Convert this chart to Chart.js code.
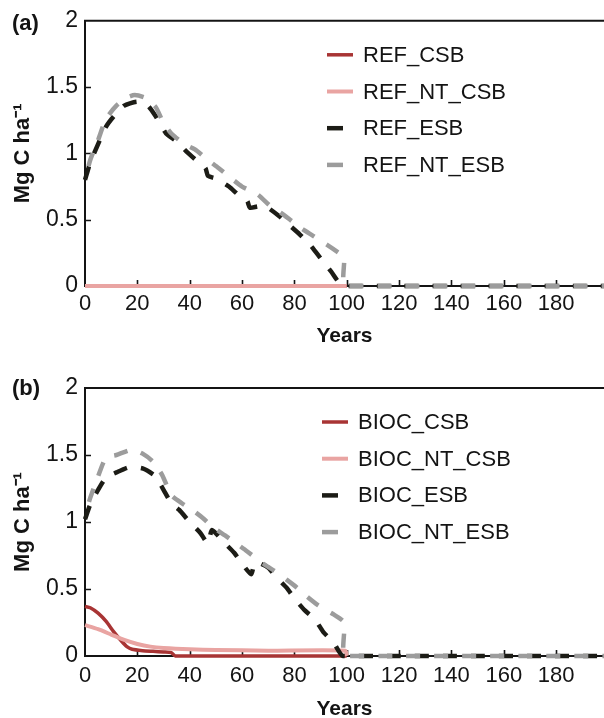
<!DOCTYPE html>
<html>
<head>
<meta charset="utf-8">
<script src="https://cdn.jsdelivr.net/npm/chart.js@4.4.0/dist/chart.umd.min.js"></script>
<style>
  html, body { margin: 0; padding: 0; background: #fff; overflow: hidden; }
  #panelA { position: absolute; left: 0; top: 0; width: 604px; height: 358px; }
  #panelB { position: absolute; left: 0; top: 358px; width: 604px; height: 366px; }
</style>
</head>
<body>
<div id="panelA"><canvas id="chartA"></canvas></div>
<div id="panelB"><canvas id="chartB"></canvas></div>
<script>
// axis ticks
const xTicks = [0, 20, 40, 60, 80, 100, 120, 140, 160, 180];
const yTicks = [0, 0.5, 1, 1.5, 2];

// (a) REF scenarios, Mg C ha-1 over years
const labelsA = ['REF_CSB', 'REF_NT_CSB', 'REF_ESB', 'REF_NT_ESB'];
const refCsbYears = [0, 100];
const refCsb = [0, 0];
const refNtCsbYears = [0, 100];
const refNtCsb = [0, 0];
const refEsbYears = [0, 2, 5, 8, 11, 15, 20, 24, 27, 31, 35, 39, 43, 46, 47, 50, 55, 59, 62, 63, 66, 69, 74, 78, 82, 86, 90, 94, 98.6, 120, 150, 200];
const refEsb = [0.80, 0.93, 1.07, 1.20, 1.28, 1.36, 1.39, 1.36, 1.28, 1.15, 1.09, 1.01, 0.94, 0.89, 0.83, 0.81, 0.75, 0.68, 0.64, 0.59, 0.60, 0.60, 0.53, 0.46, 0.39, 0.31, 0.21, 0.11, 0, 0, 0, 0];
const refNtEsbYears = [0, 2, 5, 8, 12, 16, 19, 23, 27, 30, 33, 38, 42, 47, 51, 56, 60, 66, 71, 75, 79, 83, 87, 92.5, 97, 99, 99.3, 120, 200];
const refNtEsb = [0.80, 0.95, 1.10, 1.26, 1.36, 1.42, 1.44, 1.42, 1.35, 1.23, 1.15, 1.07, 1.03, 0.95, 0.89, 0.81, 0.75, 0.69, 0.60, 0.55, 0.49, 0.43, 0.38, 0.31, 0.25, 0.22, 0, 0, 0];

// (b) BIOC scenarios
const labelsB = ['BIOC_CSB', 'BIOC_NT_CSB', 'BIOC_ESB', 'BIOC_NT_ESB'];
const biocCsbYears = [0, 2, 5, 8, 11, 14, 16, 18, 22, 26, 30, 33, 34.5, 100];
const biocCsb = [0.37, 0.36, 0.32, 0.26, 0.18, 0.11, 0.07, 0.05, 0.04, 0.035, 0.03, 0.025, 0, 0];
const biocNtCsbYears = [0, 5, 10, 15, 20, 25, 30, 40, 50, 70, 99.5, 100];
const biocNtCsb = [0.23, 0.20, 0.16, 0.12, 0.09, 0.07, 0.06, 0.05, 0.045, 0.04, 0.04, 0];
const biocEsbYears = [0, 2, 5, 8, 12, 17, 22, 27, 30, 33, 36, 40, 44, 47, 48.5, 53, 57, 60, 63.5, 65, 70, 73, 77, 80, 84, 88, 91, 95, 98.6, 120, 200];
const biocEsb = [1.02, 1.13, 1.24, 1.33, 1.37, 1.41, 1.40, 1.34, 1.24, 1.14, 1.09, 1.00, 0.92, 0.84, 0.94, 0.85, 0.77, 0.69, 0.61, 0.70, 0.66, 0.59, 0.51, 0.43, 0.34, 0.27, 0.18, 0.10, 0, 0, 0];
const biocNtEsbYears = [0, 2, 5, 8, 12, 18, 22, 26, 29.5, 33, 37, 41, 45, 49, 53.5, 58.5, 62, 68, 72, 77, 81, 85, 89, 95, 99, 99.3, 120, 200];
const biocNtEsb = [1.05, 1.18, 1.34, 1.48, 1.50, 1.54, 1.51, 1.45, 1.35, 1.20, 1.14, 1.09, 1.03, 0.96, 0.90, 0.83, 0.78, 0.69, 0.64, 0.57, 0.51, 0.44, 0.38, 0.31, 0.25, 0, 0, 0];

const FONT = '"Liberation Sans", Arial, sans-serif';
const INK = '#141414';
const styles = [
  { color: '#a83434', width: 3.5, dash: [], offset: 0 },
  { color: '#e9a4a2', width: 4, dash: [], offset: 0 },
  { color: '#1c1c16', width: 4.5, dash: [14, 14], offset: 0 },
  { color: '#9c9c9c', width: 4.5, dash: [14, 14], offset: 14 }
];

const toPoints = (xs, ys) => xs.map((x, i) => ({ x: x, y: ys[i] }));

const framePlugin = {
  id: 'frame',
  beforeDatasetsDraw(chart) {
    const { ctx, chartArea: a, scales: { x, y } } = chart;
    ctx.save();
    ctx.strokeStyle = INK;
    ctx.lineWidth = 2;
    ctx.beginPath();
    ctx.moveTo(a.left - 1, a.top);
    ctx.lineTo(a.right, a.top);
    ctx.stroke();
    // inward tick marks
    ctx.lineWidth = 1.6;
    ctx.beginPath();
    xTicks.slice(1).forEach(v => {
      const px = Math.round(x.getPixelForValue(v)) + 0.5;
      ctx.moveTo(px, a.bottom);
      ctx.lineTo(px, a.bottom - 6);
    });
    yTicks.slice(1, -1).forEach(v => {
      const py = Math.round(y.getPixelForValue(v)) + 0.5;
      ctx.moveTo(a.left, py);
      ctx.lineTo(a.left + 6, py);
    });
    ctx.stroke();
    ctx.restore();
  },
  afterDraw(chart, args, o) {
    const { ctx, chartArea: a } = chart;
    ctx.save();
    // panel tag
    ctx.fillStyle = INK;
    ctx.font = 'bold 22px ' + FONT;
    ctx.textBaseline = 'middle';
    ctx.textAlign = 'left';
    ctx.fillText(o.tag, 12, o.tagY);
    // legend
    ctx.font = '22px ' + FONT;
    chart.data.datasets.forEach((ds, i) => {
      const yy = a.top + 34 + i * 36.7;
      ctx.strokeStyle = ds.borderColor;
      ctx.lineWidth = ds.borderWidth;
      ctx.setLineDash([]);
      ctx.beginPath();
      ctx.moveTo(o.legendX, yy);
      ctx.lineTo(o.legendX + (ds.borderDash.length ? 16 : 26), yy);
      ctx.stroke();
      ctx.fillStyle = INK;
      ctx.fillText(ds.label, o.legendX + 36, yy + 1);
    });
    ctx.restore();
  }
};

function panel(id, series, labels, opt) {
  return new Chart(document.getElementById(id), {
    type: 'line',
    data: {
      datasets: series.map((s, i) => ({
        label: labels[i],
        data: toPoints(s[0], s[1]),
        borderColor: styles[i].color,
        borderWidth: styles[i].width,
        borderDash: styles[i].dash,
        borderDashOffset: styles[i].offset,
        borderCapStyle: 'butt',
        pointRadius: 0,
        tension: 0.2,
        fill: false,
        clip: false,
        order: 3 - i
      }))
    },
    options: {
      responsive: true,
      maintainAspectRatio: false,
      animation: false,
      devicePixelRatio: 1,
      layout: { padding: { top: opt.top, right: 0, left: 0, bottom: 0 } },
      plugins: { legend: { display: false }, tooltip: { enabled: false }, frame: opt },
      scales: {
        x: {
          type: 'linear', min: 0, max: 198.3,
          afterBuildTicks: s => { s.ticks = xTicks.map(v => ({ value: v })); },
          afterFit: s => { s.height = opt.xAxisH; },
          grid: { display: false, drawTicks: false },
          border: { display: true, color: INK, width: 2 },
          ticks: { padding: opt.xPad, color: INK, font: { family: FONT, size: 22 }, maxRotation: 0, autoSkip: false, callback: v => String(v) },
          title: { display: true, text: 'Years', color: INK, font: { family: FONT, size: 21, weight: 'bold' }, padding: { top: 0, bottom: opt.titlePad } }
        },
        y: {
          min: 0, max: 2,
          afterBuildTicks: s => { s.ticks = yTicks.map(v => ({ value: v })); },
          afterFit: s => { s.width = 85; },
          grid: { display: false, drawTicks: false },
          border: { display: true, color: INK, width: 2 },
          ticks: { padding: 7, color: INK, font: { family: FONT, size: 23 }, callback: v => String(v) },
          title: { display: true, text: 'Mg C ha⁻¹', color: INK, font: { family: FONT, size: 22, weight: 'bold' }, padding: { top: 10, bottom: 0 } }
        }
      }
    },
    plugins: [framePlugin]
  });
}

panel('chartA',
  [[refCsbYears, refCsb], [refNtCsbYears, refNtCsb], [refEsbYears, refEsb], [refNtEsbYears, refNtEsb]],
  labelsA,
  { top: 18, xAxisH: 72, xPad: 5, titlePad: 9, tag: '(a)', tagY: 24, legendX: 327 });

panel('chartB',
  [[biocCsbYears, biocCsb], [biocNtCsbYears, biocNtCsb], [biocEsbYears, biocEsb], [biocNtEsbYears, biocNtEsb]],
  labelsB,
  { top: 30, xAxisH: 68, xPad: 7, titlePad: 2, tag: '(b)', tagY: 31, legendX: 322 });
</script>
</body>
</html>
